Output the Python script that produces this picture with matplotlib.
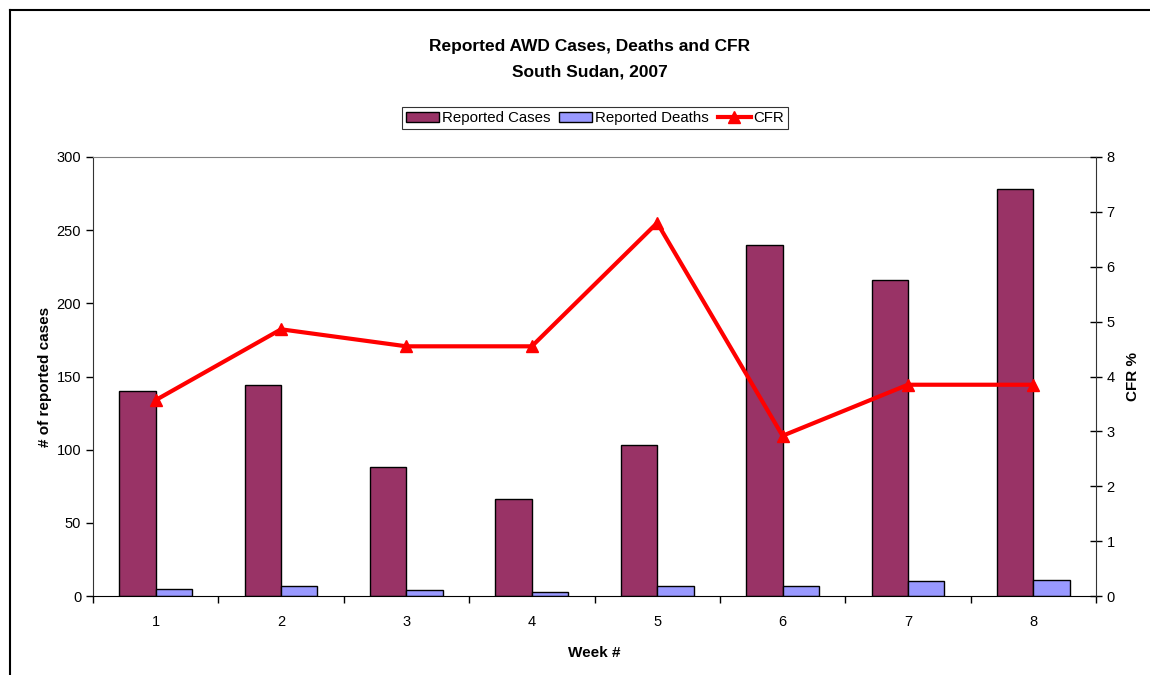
import numpy as np
import matplotlib
matplotlib.use("Agg")
from matplotlib import pyplot as plt
from matplotlib.lines import Line2D

plt.rcParams['font.family'] = ['Liberation Sans', 'DejaVu Sans']

weeks = [1, 2, 3, 4, 5, 6, 7, 8]
cases = [140, 144, 88, 66, 103, 240, 216, 278]
deaths = [5, 7, 4, 3, 7, 7, 10, 11]
cfr = [3.57, 4.86, 4.55, 4.55, 6.80, 2.92, 3.85, 3.85]

fig = plt.figure(figsize=(11.5, 6.75), dpi=100)
ax = fig.add_axes([93/1150, 1 - 596/675, (1096 - 93)/1150, (596 - 157)/675])

x = np.array(weeks)
w = 0.29
b1 = ax.bar(x - w/2, cases, w, color='#993366', edgecolor='black', linewidth=1,
            label='Reported Cases')
b2 = ax.bar(x + w/2, deaths, w, color='#9999FF', edgecolor='black', linewidth=1,
            label='Reported Deaths')
ax.set_xlim(0.5, 8.5)
ax.set_ylim(0, 300)
ax.set_yticks(range(0, 301, 50))
ax.set_xticks(x)
ax.set_xticks(np.arange(0.5, 8.6, 1), minor=True)
ax.tick_params(axis='x', which='major', length=0, labelsize=10.5, pad=14)
ax.tick_params(axis='x', which='minor', length=5, direction='out', width=1)
ax.tick_params(axis='y', labelsize=10.5, length=5, direction='out', width=1)
ax.spines['top'].set_color('#808080')
ax.spines['right'].set_visible(False)
ax.spines['left'].set_color('#333333')
ax.spines['bottom'].set_color('black')
ax.set_ylabel('# of reported cases', fontsize=11, fontweight='bold', labelpad=3)
ax.set_xlabel('Week #', fontsize=11, fontweight='bold', labelpad=12)

ax2 = ax.twinx()
ln, = ax2.plot(x, cfr, color='#FF0000', linewidth=3, marker='^', markersize=9,
               label='CFR')
ax2.set_ylim(0, 8)
ax2.set_yticks(range(0, 9))
ax2.tick_params(axis='y', labelsize=10.5, length=8, direction='inout', width=1)
for s in ['top', 'left', 'bottom']:
    ax2.spines[s].set_visible(False)
ax2.spines['right'].set_color('#333333')
ax2.set_ylabel('CFR %', fontsize=11, fontweight='bold', labelpad=8)

fig.text(0.513, 1 - 47/675, 'Reported AWD Cases, Deaths and CFR', ha='center', va='center',
         fontsize=12.5, fontweight='bold')
fig.text(0.513, 1 - 72/675, 'South Sudan, 2007', ha='center', va='center',
         fontsize=12.5, fontweight='bold')

leg = fig.legend(handles=[b1, b2, ln], loc='center', bbox_to_anchor=(595/1150, 1 - 118/675),
                 ncol=3, fontsize=10.8, frameon=True, fancybox=False, edgecolor='black',
                 handlelength=2.2, handletextpad=0.2, columnspacing=0.6,
                 borderpad=0.25, borderaxespad=0)
leg.get_frame().set_linewidth(0.8)

# outer frame (only top and left edges visible)
fig.add_artist(Line2D([10/1150, 10/1150], [0, 1 - 10/675], color='black', linewidth=1.5))
fig.add_artist(Line2D([10/1150, 1], [1 - 10/675, 1 - 10/675], color='black', linewidth=1.5))

fig.savefig('out.png', dpi=100)
